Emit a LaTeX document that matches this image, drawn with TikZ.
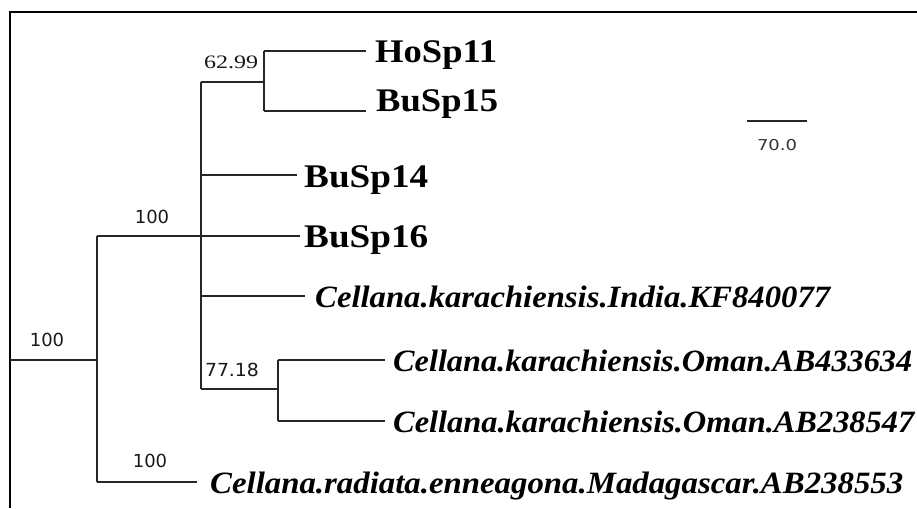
\documentclass[tikz,border=0pt]{standalone}
\usepackage{fontspec}
\usepackage{graphicx}
\setmainfont{Liberation Serif}
\newfontfamily\supfont{DejaVu Sans}
\newcommand{\fitw}[2]{\resizebox{#1}{\height}{#2}}
\tikzset{
  tree/.style={draw=black!85, line width=2.2pt},
  frameline/.style={draw=black, line width=1.6pt},
  leafbold/.style={anchor=base west, inner sep=0pt, font=\fontsize{33}{33}\selectfont\bfseries},
  leafit/.style={anchor=base west, inner sep=0pt, font=\fontsize{31}{31}\selectfont\bfseries\itshape},
  supsans/.style={inner sep=0pt, font=\fontsize{18}{18}\selectfont\supfont, text=black!90},
  supserif/.style={inner sep=0pt, font=\fontsize{19}{19}\selectfont, text=black!90},
}
\begin{document}
\begin{tikzpicture}[x=1pt, y=-1pt]
\useasboundingbox (0,0) rectangle (917,508);
% frame
\coordinate (fBL) at (10,508);
\coordinate (fTL) at (10,12);
\coordinate (fTR) at (917,12);
\draw[frameline] (fBL) -- (fTL) -- (fTR);

% internal nodes
\coordinate (root0) at (10,360);
\coordinate (r) at (97,360);
\coordinate (rTop) at (97,236);
\coordinate (rBot) at (97,482);
\coordinate (a) at (201,236);
\coordinate (aTop) at (201,82);
\coordinate (aBot) at (201,389);
\coordinate (b) at (264,82);
\coordinate (bTop) at (264,51);
\coordinate (bBot) at (264,111);
\coordinate (aB14) at (201,175);
\coordinate (aInd) at (201,296);
\coordinate (c) at (278,389);
\coordinate (cTop) at (278,360);
\coordinate (cBot) at (278,421);

% leaf ends
\coordinate (eHo11) at (366,51);
\coordinate (eBu15) at (366,111);
\coordinate (eBu14) at (297,175);
\coordinate (eBu16) at (300,236);
\coordinate (eInd) at (305,296);
\coordinate (eOm1) at (385,360);
\coordinate (eOm2) at (385,421);
\coordinate (eMad) at (197,482);

% branches
\draw[tree] (root0) -- (r);
\draw[tree] (rTop) -- (rBot);
\draw[tree] (rTop) -- (a);
\draw[tree] (rBot) -- (eMad);
\draw[tree] (aTop) -- (aBot);
\draw[tree] (aTop) -- (b);
\draw[tree] (bTop) -- (bBot);
\draw[tree] (bTop) -- (eHo11);
\draw[tree] (bBot) -- (eBu15);
\draw[tree] (aB14) -- (eBu14);
\draw[tree] (a) -- (eBu16);
\draw[tree] (aInd) -- (eInd);
\draw[tree] (aBot) -- (c);
\draw[tree] (cTop) -- (cBot);
\draw[tree] (cTop) -- (eOm1);
\draw[tree] (cBot) -- (eOm2);

% leaf labels
\node[leafbold] (lHo11) at (375,63) {\fitw{122pt}{HoSp11}};
\node[leafbold] (lBu15) at (376,112) {\fitw{122pt}{BuSp15}};
\node[leafbold] (lBu14) at (304,187) {\fitw{124pt}{BuSp14}};
\node[leafbold] (lBu16) at (304,247) {\fitw{124pt}{BuSp16}};
\node[leafit] (lInd) at (315,307) {\fitw{515pt}{Cellana.karachiensis.India.KF840077}};
\node[leafit] (lOm1) at (393,371) {\fitw{519pt}{Cellana.karachiensis.Oman.AB433634}};
\node[leafit] (lOm2) at (393,432) {\fitw{521pt}{Cellana.karachiensis.Oman.AB238547}};
\node[leafit] (lMad) at (210,493) {\fitw{693pt}{Cellana.radiata.enneagona.Madagascar.AB238553}};

% support values
\node[supsans] (sRoot) at (47,340) {100};
\node[supsans] (sTop) at (152,217) {100};
\node[supsans] (sMad) at (150,461) {100};
\node[supserif] (sB) at (231,62) {\fitw{54pt}{62.99}};
\node[supsans] (sC) at (232,370) {\fitw{54pt}{77.18}};

% scale bar
\coordinate (sbL) at (747,121);
\coordinate (sbR) at (807,121);
\draw[tree, line width=2pt] (sbL) -- (sbR);
\node[inner sep=0pt, font=\fontsize{15}{15}\selectfont\supfont, text=black!80] (sbLab) at (777,145) {\fitw{40pt}{70.0}};
\end{tikzpicture}
\end{document}
